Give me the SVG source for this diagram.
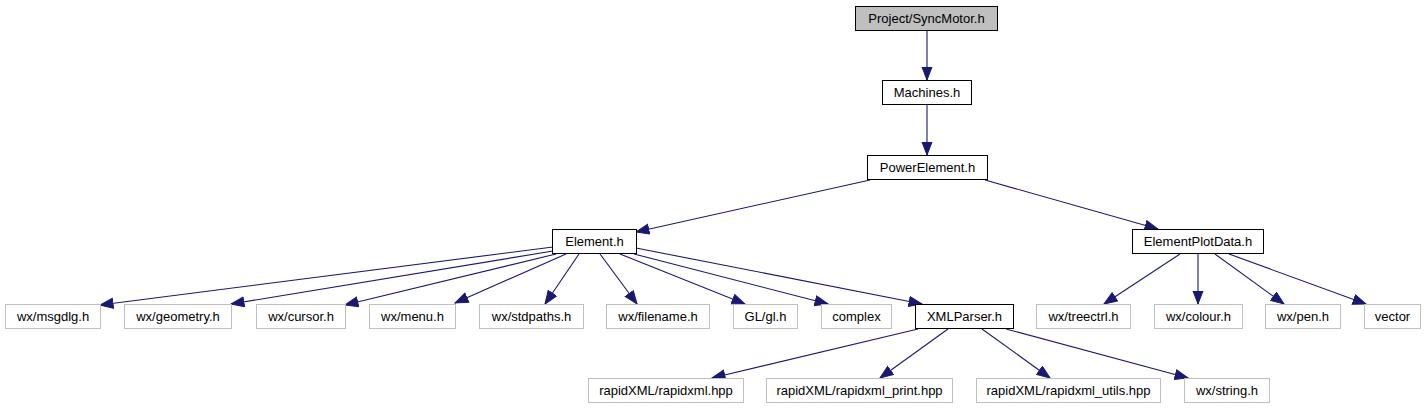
<svg xmlns="http://www.w3.org/2000/svg" width="1426" height="411" viewBox="0 0 1426 411">
<style>
.n rect{fill:#ffffff;stroke:#000000;stroke-width:1}
.x rect{fill:#ffffff;stroke:#bfbfbf;stroke-width:1}
.r rect{fill:#bfbfbf;stroke:#000000;stroke-width:1}
text{font-family:"Liberation Sans",Arial,sans-serif;font-size:13px;fill:#000000;text-anchor:middle}
#edges line{stroke:#191970;stroke-width:1.1;fill:none;marker-end:url(#ah)}
</style>
<defs>
<marker id="ah" markerUnits="userSpaceOnUse" markerWidth="15" markerHeight="12" refX="13.5" refY="5.5" orient="auto">
<path d="M0.5,0.5 L13.5,5.5 L0.5,10.5 z" fill="#191970" stroke="#191970" stroke-width="1"/>
</marker>
</defs>
<rect width="1426" height="411" fill="#ffffff"/>
<g id="edges">
<line x1="927" y1="31" x2="927" y2="80"/>
<line x1="927" y1="104" x2="927" y2="155"/>
<line x1="870" y1="180" x2="636" y2="232"/>
<line x1="985" y1="180" x2="1158" y2="229"/>
<line x1="553" y1="247" x2="100" y2="305"/>
<line x1="553" y1="251" x2="231" y2="304"/>
<line x1="556" y1="254" x2="345" y2="305"/>
<line x1="566" y1="254" x2="455" y2="303"/>
<line x1="579" y1="254" x2="545" y2="304"/>
<line x1="600" y1="254" x2="637" y2="304"/>
<line x1="620" y1="254" x2="745" y2="304"/>
<line x1="634" y1="254" x2="828" y2="304"/>
<line x1="636" y1="248" x2="922" y2="304"/>
<line x1="1180" y1="254" x2="1104" y2="304"/>
<line x1="1198" y1="254" x2="1198" y2="304"/>
<line x1="1215" y1="254" x2="1284" y2="304"/>
<line x1="1229" y1="254" x2="1366" y2="304"/>
<line x1="918" y1="329" x2="712" y2="378"/>
<line x1="948" y1="329" x2="880" y2="378"/>
<line x1="982" y1="329" x2="1050" y2="378"/>
<line x1="1006" y1="329" x2="1188" y2="378"/>
</g>
<g id="n_syncmotor" class="r"><rect x="855.5" y="6.5" width="142" height="24"/><text x="926.5" y="23">Project/SyncMotor.h</text></g>
<g id="n_machines" class="n"><rect x="882.5" y="80.5" width="89" height="24"/><text x="927" y="97">Machines.h</text></g>
<g id="n_powerelement" class="n"><rect x="867.5" y="155.5" width="120" height="24"/><text x="927.5" y="172">PowerElement.h</text></g>
<g id="n_element" class="n"><rect x="552.5" y="229.5" width="84" height="24"/><text x="594.5" y="246">Element.h</text></g>
<g id="n_elementplotdata" class="n"><rect x="1132.5" y="229.5" width="131" height="24"/><text x="1198" y="246">ElementPlotData.h</text></g>
<g id="n_msgdlg" class="x"><rect x="5.5" y="304.5" width="95" height="24"/><text x="53" y="321">wx/msgdlg.h</text></g>
<g id="n_geometry" class="x"><rect x="124.5" y="304.5" width="107" height="24"/><text x="178" y="321">wx/geometry.h</text></g>
<g id="n_cursor" class="x"><rect x="256.5" y="304.5" width="89" height="24"/><text x="301" y="321">wx/cursor.h</text></g>
<g id="n_menu" class="x"><rect x="369.5" y="304.5" width="86" height="24"/><text x="412.5" y="321">wx/menu.h</text></g>
<g id="n_stdpaths" class="x"><rect x="479.5" y="304.5" width="104" height="24"/><text x="531.5" y="321">wx/stdpaths.h</text></g>
<g id="n_filename" class="x"><rect x="606.5" y="304.5" width="103" height="24"/><text x="658" y="321">wx/filename.h</text></g>
<g id="n_gl" class="x"><rect x="733.5" y="304.5" width="64" height="24"/><text x="765.5" y="321">GL/gl.h</text></g>
<g id="n_complex" class="x"><rect x="821.5" y="304.5" width="70" height="24"/><text x="856.5" y="321">complex</text></g>
<g id="n_xmlparser" class="n"><rect x="915.5" y="304.5" width="98" height="24"/><text x="964.5" y="321">XMLParser.h</text></g>
<g id="n_treectrl" class="x"><rect x="1036.5" y="304.5" width="94" height="24"/><text x="1083.5" y="321">wx/treectrl.h</text></g>
<g id="n_colour" class="x"><rect x="1154.5" y="304.5" width="88" height="24"/><text x="1198.5" y="321">wx/colour.h</text></g>
<g id="n_pen" class="x"><rect x="1265.5" y="304.5" width="75" height="24"/><text x="1303" y="321">wx/pen.h</text></g>
<g id="n_vector" class="x"><rect x="1364.5" y="304.5" width="56" height="24"/><text x="1392.5" y="321">vector</text></g>
<g id="n_rapidxml" class="x"><rect x="588.5" y="378.5" width="155" height="24"/><text x="666" y="395">rapidXML/rapidxml.hpp</text></g>
<g id="n_rapidxml_print" class="x"><rect x="766.5" y="378.5" width="186" height="24"/><text x="859.5" y="395">rapidXML/rapidxml_print.hpp</text></g>
<g id="n_rapidxml_utils" class="x"><rect x="976.5" y="378.5" width="184" height="24"/><text x="1068.5" y="395">rapidXML/rapidxml_utils.hpp</text></g>
<g id="n_string" class="x"><rect x="1184.5" y="378.5" width="85" height="24"/><text x="1227" y="395">wx/string.h</text></g>
</svg>
